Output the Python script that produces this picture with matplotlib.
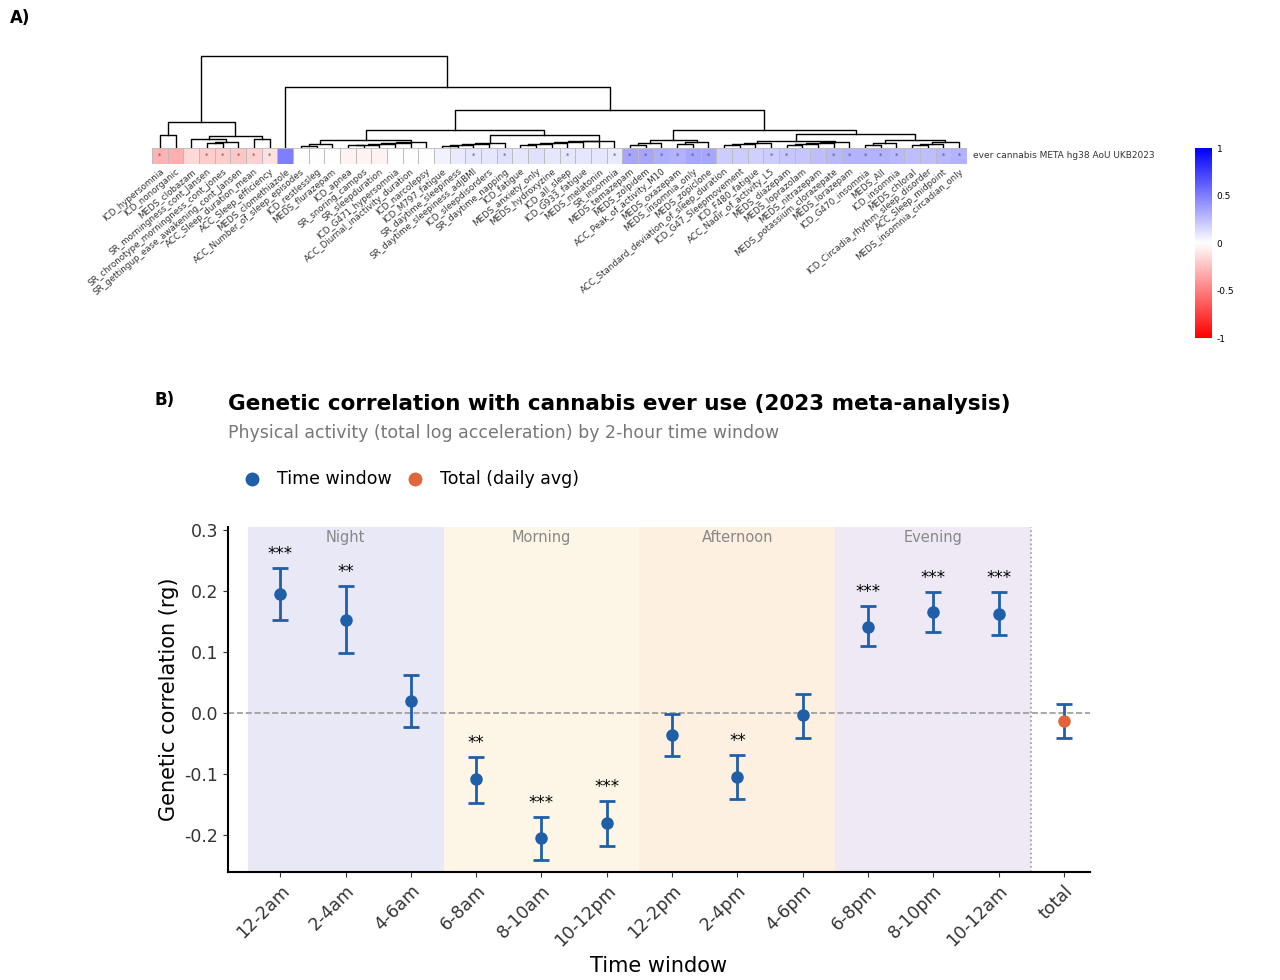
import matplotlib
matplotlib.use("Agg")
import matplotlib.pyplot as plt
import numpy as np
from matplotlib.colors import LinearSegmentedColormap
from matplotlib.patches import Rectangle
from matplotlib.lines import Line2D

# ---------------- data panel A ----------------
traits = ["ICD_hypersomnia","ICD_nonorganic","MEDS_clobazam","SR_morningness_cont_Jansen",
"SR_chronotype_morningness_cont_jones","SR_gettingup_ease_awakening_cont_Jansen","ACC_Sleep_duration_mean",
"ACC_Sleep_efficiency","MEDS_clomethiazole","ACC_Number_of_sleep_episodes","ICD_restlessleg","MEDS_flurazepam",
"ICD_apnea","SR_snoring_campos","SR_sleepduration","ICD_G471_hypersomnia","ACC_Diurnal_inactivity_duration",
"ICD_narcolepsy","ICD_M797_fatigue","SR_daytime_sleepiness","SR_daytime_sleepiness_adjBMI","ICD_sleepdisorders",
"SR_daytime_napping","ICD_fatigue","MEDS_anxiety_only","MEDS_hydroxyzine","ICD_all_sleep","ICD_G933_fatigue",
"MEDS_melatonin","SR_insomnia","MEDS_temazepam","MEDS_zolpidem","ACC_Peak_of_activity_M10","MEDS_oxazepam",
"MEDS_insomnia_only","MEDS_zopiclone","ACC_Standard_deviation_of_sleep_duration","ICD_G47_Sleepmovement",
"ICD_F480_fatigue","ACC_Nadir_of_activity_L5","MEDS_diazepam","MEDS_loprazolam","MEDS_nitrazepam",
"MEDS_potassium_clorazepate","MEDS_lorazepam","ICD_G470_insomnia","MEDS_All","ICD_insomnia","MEDS_chloral",
"ICD_Circadia_rhythm_sleep_disorder","ACC_Sleep_midpoint","MEDS_insomnia_circadian_only"]
rg_values = [-0.3,-0.32,-0.15,-0.2,-0.2,-0.22,-0.18,-0.12,0.5,0.0,0.0,0.0,-0.05,-0.05,-0.05,0.0,0.0,0.0,
0.05,0.08,0.1,0.1,0.12,0.1,0.12,0.1,0.1,0.1,0.1,0.08,0.35,0.35,0.32,0.3,0.35,0.35,0.2,0.2,0.18,0.2,0.22,
0.22,0.25,0.28,0.3,0.3,0.3,0.28,0.25,0.25,0.28,0.3]
sig_cells = [0,3,4,5,6,7,20,22,26,29,30,31,32,33,34,35,39,40,43,44,45,46,47,50,51]
row_label = "ever_cannabis_META_hg38_AoU_UKB2023"

def rng(a, b, h):
    node = a
    steps = b - a
    for k, i in enumerate(range(a + 1, b + 1)):
        node = (h * (0.35 + 0.65 * (k + 1) / steps), node, i)
    return node

A = (0.28, (0.14, 0, 1), (0.13, (0.1, 2, (0.07, (0.05, 3, 4), 5)), (0.1, 6, 7)))
D = (0.2, (0.09, rng(9, 11, 0.04), rng(12, 17, 0.06)), (0.14, rng(18, 22, 0.05), rng(23, 29, 0.08)))
E = (0.2, (0.09, rng(30, 32, 0.05), rng(33, 35, 0.06)),
     (0.15, (0.08, rng(36, 39, 0.05), rng(40, 44, 0.07)), (0.09, rng(45, 47, 0.05), rng(48, 51, 0.06))))
tree = (1.0, A, (0.66, 8, (0.41, D, E)))

# ---------------- data panel B ----------------
windows = ["12-2am","2-4am","4-6am","6-8am","8-10am","10-12pm","12-2pm","2-4pm","4-6pm","6-8pm","8-10pm","10-12am","total"]
rg = [0.195,0.153,0.02,-0.108,-0.205,-0.18,-0.035,-0.104,-0.003,0.142,0.165,0.162,-0.012]
lo = [0.152,0.098,-0.022,-0.147,-0.24,-0.217,-0.07,-0.141,-0.04,0.11,0.133,0.128,-0.04]
hi = [0.238,0.208,0.063,-0.072,-0.17,-0.143,-0.002,-0.068,0.032,0.175,0.198,0.198,0.015]
stars = ["***","**","","**","***","***","","**","","***","***","***",""]
periods = ["Night","Morning","Afternoon","Evening"]
period_colors = ["#e8e8f6","#fdf5e6","#fdf0e1","#efe8f5"]

fig = plt.figure(figsize=(12.8, 9.8), dpi=100)
cmap = LinearSegmentedColormap.from_list("rwb", ["#ff0000", "#ffffff", "#0000ff"])
n = len(traits)

axh = fig.add_axes([152/1280, 1-164/980, 815/1280, 16/980])
axh.imshow(np.array(rg_values)[None, :], cmap=cmap, vmin=-1, vmax=1, aspect="auto",
           extent=(-0.5, n-0.5, 0, 1))
for i in range(n):
    axh.add_patch(Rectangle((i-0.5, 0), 1, 1, fill=False, ec="#bbbbbb", lw=0.6))
for i in sig_cells:
    axh.text(i, 0.5, "*", ha="center", va="center", fontsize=5, color="#555555")
axh.set_xlim(-0.5, n-0.5); axh.set_ylim(0, 1)
axh.set_yticks([])
axh.set_xticks(range(n))
axh.set_xticklabels(traits, rotation=40, ha="right", rotation_mode="anchor", fontsize=6.3, color="#333333")
axh.tick_params(length=0, pad=2)
for s in axh.spines.values(): s.set_visible(False)
axh.text(n-0.5+0.4, 0.5, row_label.replace("_", " "), va="center", ha="left", fontsize=6.5, color="#333333")

axd = fig.add_axes([152/1280, 1-148/980, 815/1280, 93/980])
def draw(node):
    if isinstance(node, int):
        return float(node), 0.0
    h, l, r = node
    xl, hl = draw(l); xr, hr = draw(r)
    axd.plot([xl, xl, xr, xr], [hl, h, h, hr], color="black", lw=1.0)
    return (xl + xr) / 2, h
draw(tree)
axd.set_xlim(-0.5, n-0.5); axd.set_ylim(0, 1.01)
axd.axis("off")

axc = fig.add_axes([1195/1280, 1-338/980, 17/1280, 190/980])
grad = np.linspace(-1, 1, 200)[:, None]
axc.imshow(grad, cmap=cmap, vmin=-1, vmax=1, aspect="auto", origin="lower", extent=(0, 1, -1, 1))
axc.set_xticks([])
axc.yaxis.tick_right()
axc.set_yticks([1, 0.5, 0, -0.5, -1]); axc.set_yticklabels(["1", "0.5", "0", "-0.5", "-1"], fontsize=6.5)
axc.tick_params(length=0)
for s in axc.spines.values(): s.set_visible(False)

fig.text(10/1280, 1-18/980, "A)", fontsize=12, fontweight="bold", va="center")
fig.text(155/1280, 1-400/980, "B)", fontsize=12, fontweight="bold", va="center")

ax = fig.add_axes([228/1280, 1-872/980, 862/1280, 345/980])
x = np.arange(len(windows))
for k, (p, c) in enumerate(zip(periods, period_colors)):
    ax.axvspan(3*k-0.5, 3*k+2.5, color=c, zorder=0, lw=0)
    ax.text(3*k+1, 0.287, p, ha="center", va="center", fontsize=10.5, color="#888888")
ax.axvline(11.5, color="#999999", ls=":", lw=1.2)
ax.axhline(0, color="#999999", ls="--", lw=1.2)
yerr = [np.array(rg) - np.array(lo), np.array(hi) - np.array(rg)]
ax.errorbar(x[:12], rg[:12], yerr=[yerr[0][:12], yerr[1][:12]], fmt="o", color="#1f5fa8",
            ms=8, capsize=6, elinewidth=2, capthick=2, zorder=3)
ax.errorbar(x[12:], rg[12:], yerr=[yerr[0][12:], yerr[1][12:]], fmt="o", color="#1f5fa8",
            mfc="#e0663a", mec="#e0663a", ms=8, capsize=6, elinewidth=2, capthick=2, zorder=3)
for xi, h, s in zip(x, hi, stars):
    if s:
        ax.text(xi, h + 0.008, s, ha="center", va="bottom", fontsize=12)
ax.set_xlim(-0.8, 12.4); ax.set_ylim(-0.26, 0.305)
ax.set_yticks([-0.2, -0.1, 0.0, 0.1, 0.2, 0.3])
ax.set_yticklabels(["-0.2", "-0.1", "0.0", "0.1", "0.2", "0.3"])
ax.set_xticks(x); ax.set_xticklabels(windows, rotation=45, ha="right", rotation_mode="anchor")
ax.tick_params(labelsize=12.5, colors="#333333")
ax.set_xlabel("Time window", fontsize=15)
ax.set_ylabel("Genetic correlation (rg)", fontsize=15)
ax.spines["top"].set_visible(False); ax.spines["right"].set_visible(False)
ax.spines["left"].set_linewidth(1.5); ax.spines["bottom"].set_linewidth(1.5)

fig.text(228/1280, 1-404/980, "Genetic correlation with cannabis ever use (2023 meta-analysis)",
         fontsize=15.5, fontweight="bold", va="center")
fig.text(228/1280, 1-433/980, "Physical activity (total log acceleration) by 2-hour time window",
         fontsize=12.5, color="#777777", va="center")
fig.add_artist(Line2D([252/1280], [1-479/980], marker="o", ms=9, color="#1f5fa8", transform=fig.transFigure))
fig.text(277/1280, 1-479/980, "Time window", fontsize=12.5, va="center")
fig.add_artist(Line2D([415/1280], [1-479/980], marker="o", ms=9, color="#e0663a", transform=fig.transFigure))
fig.text(440/1280, 1-479/980, "Total (daily avg)", fontsize=12.5, va="center")

fig.savefig("out.png", dpi=100)
